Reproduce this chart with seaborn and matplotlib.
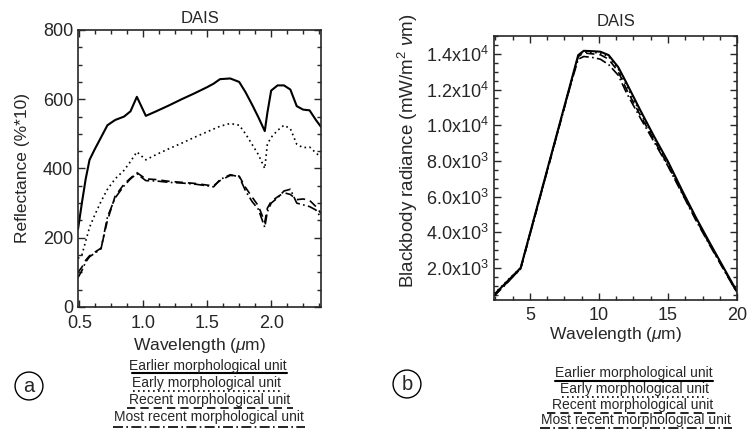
import numpy as np
import pandas as pd
import seaborn as sns
import matplotlib.pyplot as plt
from matplotlib.lines import Line2D
from matplotlib.ticker import MultipleLocator, FuncFormatter

# ---- data ----
units = ["Earlier morphological unit", "Early morphological unit",
         "Recent morphological unit", "Most recent morphological unit"]
styles = ["-", (0, (1, 2)), (0, (5, 3)), (0, (6, 2, 1, 2))]
widths = [1.5, 1.2, 1.2, 1.2]

# panel a: reflectance, DAIS VNIR/SWIR
wl_a = [0.49, 0.52, 0.55, 0.58, 0.62, 0.67, 0.72, 0.78, 0.85, 0.9, 0.95, 1.02,
        1.1, 1.2, 1.3, 1.4, 1.5, 1.55, 1.6, 1.68, 1.75, 1.8, 1.85, 1.9, 1.95,
        1.97, 2.0, 2.05, 2.1, 2.15, 2.2, 2.25, 2.3, 2.35, 2.39]
refl_earlier = [225, 300, 370, 425, 455, 490, 525, 540, 550, 565, 607, 552,
                565, 582, 600, 617, 635, 645, 658, 660, 650, 620, 585, 548, 508,
                560, 625, 640, 640, 628, 580, 570, 568, 540, 520]
refl_early = [140, 150, 190, 230, 265, 305, 340, 370, 395, 420, 448, 425,
              440, 457, 473, 490, 506, 514, 522, 530, 525, 500, 470, 440, 400,
              470, 490, 510, 525, 515, 470, 460, 462, 445, 432]
refl_recent = [100, 115, 135, 148, 158, 170, 250, 320, 355, 372, 388, 370,
               368, 363, 360, 357, 352, 350, 365, 380, 378, 345, 318, 292, 245,
               285, 305, 318, 330, 325, 310, 312, 308, 290, 270]
refl_most = [85, 105, 130, 145, 155, 168, 260, 315, 350, 370, 385, 365,
             364, 360, 358, 355, 350, 347, 368, 382, 376, 335, 305, 282, 230,
             275, 300, 315, 335, 340, 300, 295, 290, 280, 258]

# panel b: blackbody radiance, DAIS TIR
wl_b = [2.4, 3.0, 3.5, 4.33, 5.0, 6.0, 7.0, 8.0, 8.5, 8.9, 9.5, 10.1, 10.7,
        11.4, 12.0, 13.0, 14.0, 15.0, 16.0, 17.0, 18.0, 19.0, 20.0]
bb_earlier = [490, 960, 1350, 2000, 3920, 6780, 9640, 12500, 13930, 14170, 14150,
              14120, 13930, 13250, 12360, 10830, 9360, 7960, 6380, 4860, 3440, 2050, 670]
bb_early = [550, 1000, 1400, 2000, 3900, 6750, 9600, 12450, 13900, 14100, 14080,
            14050, 13850, 13150, 12200, 10700, 9250, 7850, 6300, 4800, 3400, 2000, 640]
bb_recent = [450, 900, 1300, 1950, 3880, 6740, 9600, 12450, 13850, 14050, 14000,
             13950, 13700, 13000, 12000, 10550, 9150, 7750, 6250, 4750, 3350, 1980, 620]
bb_most = [420, 880, 1280, 1950, 3850, 6700, 9560, 12400, 13700, 13850, 13800,
           13700, 13400, 12800, 11800, 10400, 9050, 7700, 6200, 4700, 3300, 1950, 600]
bb_ticks = [2000, 4000, 6000, 8000, 10000, 12000, 14000]

sns.set_style("ticks")
plt.rcParams["font.family"] = ["Liberation Sans", "DejaVu Sans"]
plt.rcParams["mathtext.fontset"] = "custom"
plt.rcParams["mathtext.rm"] = "Liberation Sans"
plt.rcParams["mathtext.it"] = "Liberation Sans:italic"

fig = plt.figure(figsize=(7.51, 4.29), dpi=100)
ax1 = fig.add_axes([0.1039, 0.2844, 0.3236, 0.6457])
ax2 = fig.add_axes([0.6578, 0.3007, 0.3236, 0.6154])

for ys, ls, lw in zip([refl_earlier, refl_early, refl_recent, refl_most], styles, widths):
    sns.lineplot(x=wl_a, y=ys, ax=ax1, color="black", linestyle=ls, lw=lw)
for ys, ls, lw in zip([bb_earlier, bb_early, bb_recent, bb_most], styles, widths):
    sns.lineplot(x=wl_b, y=ys, ax=ax2, color="black", linestyle=ls, lw=lw)

ax1.set_xlim(0.49, 2.39)
ax1.set_ylim(0, 800)
ax1.xaxis.set_major_locator(MultipleLocator(0.5))
ax1.xaxis.set_minor_locator(MultipleLocator(0.125))
ax1.yaxis.set_major_locator(MultipleLocator(200))
ax1.yaxis.set_minor_locator(MultipleLocator(50))
ax1.xaxis.set_major_formatter(FuncFormatter(lambda v, p: f"{v:.1f}"))
ax1.set_title("DAIS", fontsize=12, pad=5)
ax1.set_xlabel("Wavelength ($\\mu$m)", fontsize=12.5, labelpad=3)
ax1.set_ylabel("Reflectance (%*10)", fontsize=12.5, labelpad=9)

ax2.set_xlim(2.4, 20)
ax2.set_ylim(200, 15000)
ax2.xaxis.set_major_locator(MultipleLocator(5))
ax2.xaxis.set_minor_locator(MultipleLocator(1.25))
ax2.set_yticks(bb_ticks)
ax2.yaxis.set_minor_locator(MultipleLocator(500))


def sci(v, p):
    if v <= 0:
        return ""
    e = int(np.floor(np.log10(v)))
    return f"{v / 10**e:.1f}x10$^{{{e}}}$"


ax2.yaxis.set_major_formatter(FuncFormatter(sci))
ax2.set_title("DAIS", fontsize=12, pad=7)
ax2.set_xlabel("Wavelength ($\\mu$m)", fontsize=12.5, labelpad=1)
ax2.set_ylabel("Blackbody radiance (mW/m$^2$ $\\nu$m)", fontsize=13.5)
ax2.yaxis.set_label_coords(-0.305, 0.565)

for ax in (ax1, ax2):
    ax.tick_params(which="both", direction="in", top=True, right=True, labelsize=13)
    ax.tick_params(which="major", length=5, width=1)
    ax.tick_params(which="minor", length=3, width=1)
    for s in ax.spines.values():
        s.set_linewidth(1.2)
ax1.tick_params(axis="x", pad=6)
ax2.tick_params(axis="x", pad=5)

# legends under each panel: text with a line sample underneath
W, H = 751, 429
leg_a = [(208, 366, 373, 132, 287), (207, 383, 391, 133, 280),
         (210, 400, 408, 127, 293), (209, 417, 427, 113, 305)]
leg_b = [(634, 373, 381, 555, 713), (634, 389, 397, 562, 705),
         (633, 405, 413, 547, 718), (636, 420, 428, 540, 732)]
for leg in (leg_a, leg_b):
    for (cx, ty, ly, x0, x1), name, ls, lw in zip(leg, units, styles, widths):
        fig.text(cx / W, 1 - ty / H, name, ha="center", va="center", fontsize=10)
        fig.add_artist(Line2D([x0 / W, x1 / W], [1 - ly / H, 1 - ly / H],
                              color="black", linestyle=ls, lw=lw,
                              transform=fig.transFigure))

for lab, x, y in [("a", 29, 386), ("b", 407, 384)]:
    fig.text(x / W, 1 - y / H, lab, ha="center", va="center", fontsize=14.5,
             bbox=dict(boxstyle="circle,pad=0.22", fc="white", ec="black", lw=1))

fig.savefig("out.png", dpi=100)
